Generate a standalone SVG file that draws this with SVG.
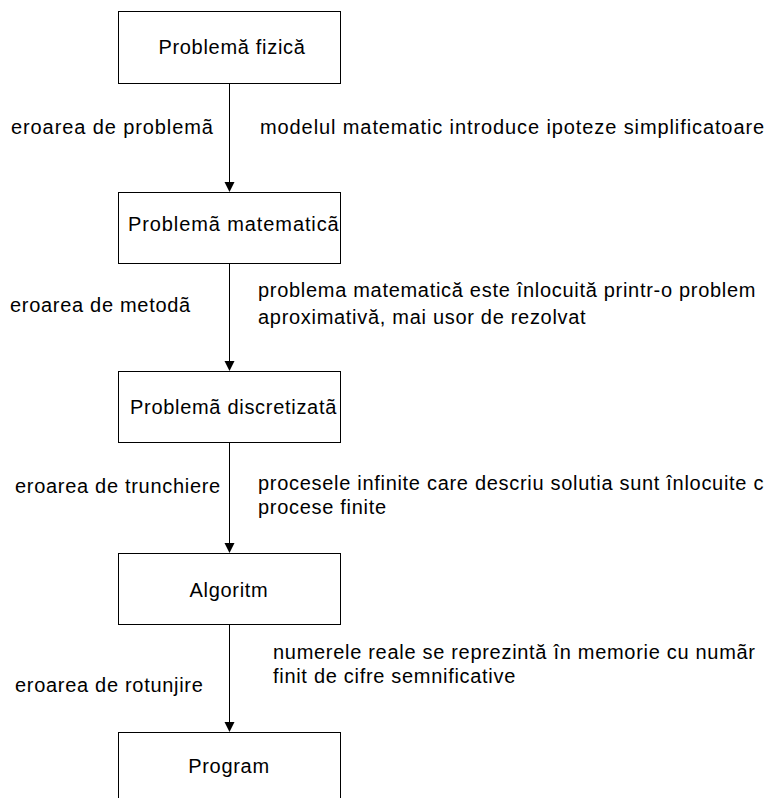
<svg xmlns="http://www.w3.org/2000/svg" width="765" height="798" viewBox="0 0 765 798">
<style>
.box{fill:#fff;stroke:#000;stroke-width:1}
.t{font-family:"Liberation Sans",Arial,sans-serif;font-size:20px;letter-spacing:0.7px;fill:#000}
.w{letter-spacing:0.9px}
.c{text-anchor:middle}
.ln{stroke:#000;stroke-width:1;fill:none}
</style>
<defs>
<marker id="ah" markerWidth="10" markerHeight="11" refX="9" refY="5" orient="auto" markerUnits="userSpaceOnUse" viewBox="0 0 10 10">
<path d="M0,0 L10,5 L0,10 z" fill="#000"/>
</marker>
</defs>
<rect width="765" height="798" fill="#fff"/>
<g id="connectors">
<line class="ln" x1="229.5" y1="83" x2="229.5" y2="191" marker-end="url(#ah)"/>
<line class="ln" x1="229.5" y1="263" x2="229.5" y2="370" marker-end="url(#ah)"/>
<line class="ln" x1="229.5" y1="442" x2="229.5" y2="552" marker-end="url(#ah)"/>
<line class="ln" x1="229.5" y1="624" x2="229.5" y2="731" marker-end="url(#ah)"/>
</g>
<g id="n1"><rect class="box" x="118.5" y="11.5" width="222" height="72"/><text class="t c" x="232" y="54">Problemă fizică</text></g>
<g id="n2"><rect class="box" x="118.5" y="192.5" width="222" height="71"/><text class="t w" x="128" y="231">Problemã matematicã</text></g>
<g id="n3"><rect class="box" x="118.5" y="371.5" width="222" height="71"/><text class="t" x="130" y="414">Problemã discretizatã</text></g>
<g id="n4"><rect class="box" x="118.5" y="553.5" width="222" height="71"/><text class="t c" x="229" y="597">Algoritm</text></g>
<g id="n5"><rect class="box" x="118.5" y="732.5" width="222" height="80"/><text class="t c" x="229" y="773">Program</text></g>
<g id="labels">
<text class="t w" x="11" y="134">eroarea de problemã</text>
<text class="t w" x="260" y="134">modelul matematic introduce ipoteze simplificatoare</text>
<text class="t" x="10" y="312">eroarea de metodã</text>
<text class="t" x="258" y="297">problema matematică este înlocuită printr-o problem</text>
<text class="t" x="258" y="324">aproximativă, mai usor de rezolvat</text>
<text class="t" x="15" y="493">eroarea de trunchiere</text>
<text class="t" x="258" y="490">procesele infinite care descriu solutia sunt înlocuite c</text>
<text class="t" x="258" y="514">procese finite</text>
<text class="t" x="273" y="659">numerele reale se reprezintă în memorie cu numãr</text>
<text class="t" x="273" y="683">finit de cifre semnificative</text>
<text class="t" x="15" y="692">eroarea de rotunjire</text>
</g>
</svg>
